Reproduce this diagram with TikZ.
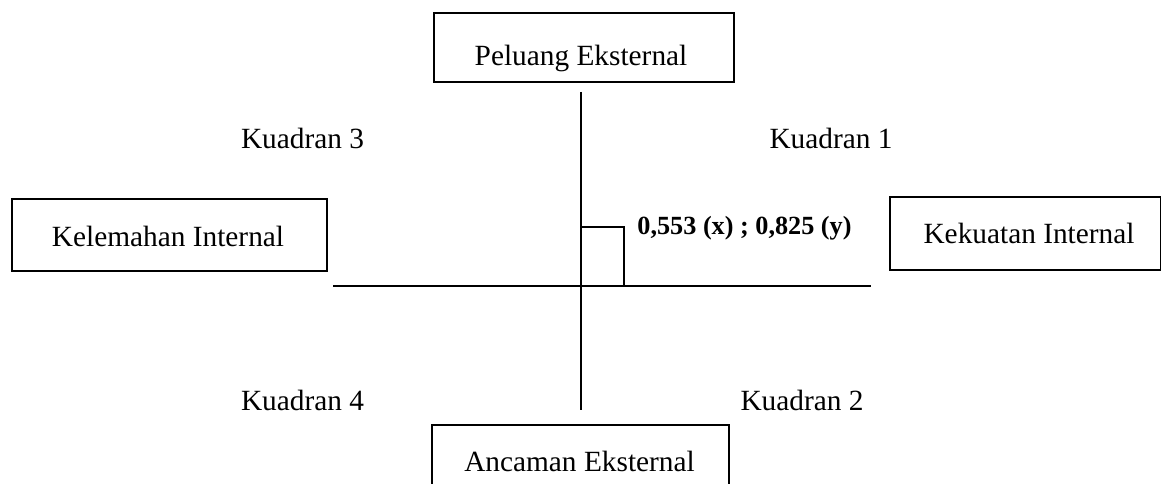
\documentclass[tikz,border=0pt]{standalone}
\usepackage{fontspec}
\setmainfont{Liberation Serif}
\begin{document}
\begin{tikzpicture}[x=0.45pt,y=-0.45pt,
  every node/.style={font=\fontsize{13.2}{15}\selectfont, inner sep=0pt},
  box/.style={draw, line width=0.9pt, rectangle, anchor=north west},
  lbl/.style={anchor=base},
  axis/.style={line width=0.9pt}]
\useasboundingbox (0,0) rectangle (1161,484);
\clip (0,0) rectangle (1161,484);
% boxes
\node[box, minimum width=300*0.45pt, minimum height=69*0.45pt] (top) at (433,12) {};
\node[box, minimum width=315*0.45pt, minimum height=72*0.45pt] (left) at (11,198) {};
\node[box, minimum width=271*0.45pt, minimum height=73*0.45pt] (right) at (889,196) {};
\node[box, minimum width=297*0.45pt, minimum height=80*0.45pt] (bottom) at (431,424) {};
% box texts
\node[lbl] (toptxt) at (581,66) {Peluang Eksternal};
\node[lbl] (lefttxt) at (168,246.5) {Kelemahan Internal};
\node[lbl] (righttxt) at (1029,244) {Kekuatan Internal};
\node[lbl] (bottxt) at (579.5,471.5) {Ancaman Eksternal};
% quadrant labels
\node[lbl] (k3) at (302.5,149) {Kuadran 3};
\node[lbl] (k1) at (831,149) {Kuadran 1};
\node[lbl] (k4) at (302.5,411) {Kuadran 4};
\node[lbl] (k2) at (802,411) {Kuadran 2};
% point label
\node[anchor=base west, font=\fontsize{11.8}{14}\selectfont\bfseries] (pt) at (637,235) {0,553 (x) ; 0,825 (y)};
% axes
\coordinate (vt) at (581,92);
\coordinate (vb) at (581,410);
\coordinate (hl) at (333,286);
\coordinate (hr) at (871,286);
\draw[axis] (vt) -- (vb);
\draw[axis] (hl) -- (hr);
% point marker
\coordinate (p1) at (581,227);
\coordinate (p2) at (624,227);
\coordinate (p3) at (624,286);
\draw[axis] (p1) -- (p2) -- (p3);
\end{tikzpicture}
\end{document}
